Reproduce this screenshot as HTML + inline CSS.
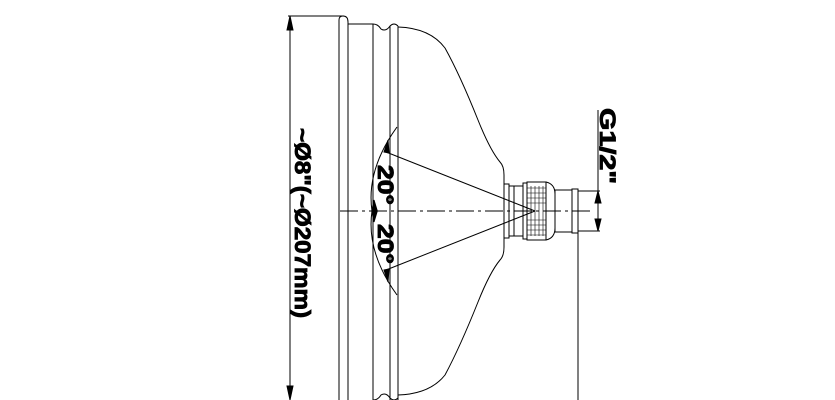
<!DOCTYPE html>
<html><head><style>
html,body{margin:0;padding:0;background:#fff;}
svg{display:block}
text{font-family:"Liberation Sans",Arial,sans-serif;font-weight:bold;fill:#000;stroke:#000;stroke-width:0.9}
</style></head><body>
<svg width="835" height="400" viewBox="0 0 835 400" xmlns="http://www.w3.org/2000/svg">
<g fill="none" stroke="#000" stroke-width="1">
<line x1="290" y1="16" x2="290" y2="400"/>
<line x1="288" y1="16" x2="344" y2="16"/>
<path d="M290 16 l-3 14 h6 z" fill="#000"/>
<path d="M290 400 l-3 -14 h6 z" fill="#000"/>
<path d="M339 420 V20 Q339 16 343 16 Q348 16 348 22 V420"/>
<line x1="348" y1="24" x2="373" y2="24"/>
<line x1="373" y1="24" x2="373" y2="420"/>
<path d="M373 24 Q378 24 381 29 Q386 32 390 26 Q394 22 398 26"/>
<line x1="390" y1="26" x2="390" y2="420"/>
<line x1="398" y1="26" x2="398" y2="420"/>
<path d="M398 398 Q394 402 390 398 Q386 392 381 395 Q378 400 373 400"/>
<path d="M398 27 Q430 28 445 48 Q460 75 478 120 Q490 150 500 162 Q504 166 504 175 V247 Q504 256 500 260 Q490 272 478 302 Q460 347 445 375 Q430 394 398 395"/>
<rect x="504" y="184" width="5" height="54"/>
<rect x="509" y="186" width="14" height="50"/>
<line x1="514" y1="186" x2="514" y2="236"/>
<rect x="523" y="183" width="4" height="56"/>
<rect x="527" y="182" width="19" height="58"/>
<path d="M546 182 Q555 184 555 194 V228 Q555 238 546 240"/>
<rect x="555" y="190" width="17" height="42"/>
<rect x="572" y="189" width="6" height="44"/>
<line x1="578" y1="191" x2="600" y2="191"/>
<line x1="578" y1="231" x2="600" y2="231"/>
<line x1="578" y1="231" x2="578" y2="400"/>
<line x1="598" y1="110" x2="598" y2="191"/>
<line x1="598" y1="191" x2="598" y2="231"/>
<path d="M598 191 l-3 12 h6 z" fill="#000"/>
<path d="M598 231 l-3 -12 h6 z" fill="#000"/>
<line x1="340" y1="211" x2="590" y2="211" stroke-dasharray="18 4 3 4"/>
<line x1="535" y1="211" x2="386" y2="152"/>
<line x1="535" y1="211" x2="386" y2="270"/>
<path d="M397 127 Q366 170 372 211 Q366 252 397 295"/>
<path d="M388 140 l-4 12 5 1 z" fill="#000"/>
<path d="M388 282 l-4 -12 5 -1 z" fill="#000"/>
<path d="M374 200 l-2 10 5 0 z" fill="#000"/>
<path d="M374 222 l-2 -10 5 0 z" fill="#000"/>
</g>
<g stroke="#000" stroke-width="0.6">
<line x1="531" y1="186" x2="531" y2="236"/><line x1="535" y1="186" x2="535" y2="236"/><line x1="539" y1="186" x2="539" y2="236"/><line x1="543" y1="186" x2="543" y2="236"/>
<path d="M527 188h19M527 193h19M527 198h19M527 203h19M527 220h19M527 225h19M527 230h19M527 235h19"/>
</g>
<text transform="translate(295,128) rotate(90)" font-size="22" textLength="190" lengthAdjust="spacingAndGlyphs">~Ø8"(~Ø207mm)</text>
<text transform="translate(378,165) rotate(90)" font-size="22" textLength="40" lengthAdjust="spacingAndGlyphs">20°</text>
<text transform="translate(378,224) rotate(90)" font-size="22" textLength="40" lengthAdjust="spacingAndGlyphs">20°</text>
<text transform="translate(600,108) rotate(90)" font-size="22" textLength="76" lengthAdjust="spacingAndGlyphs">G1/2"</text>
</svg>
</body></html>
